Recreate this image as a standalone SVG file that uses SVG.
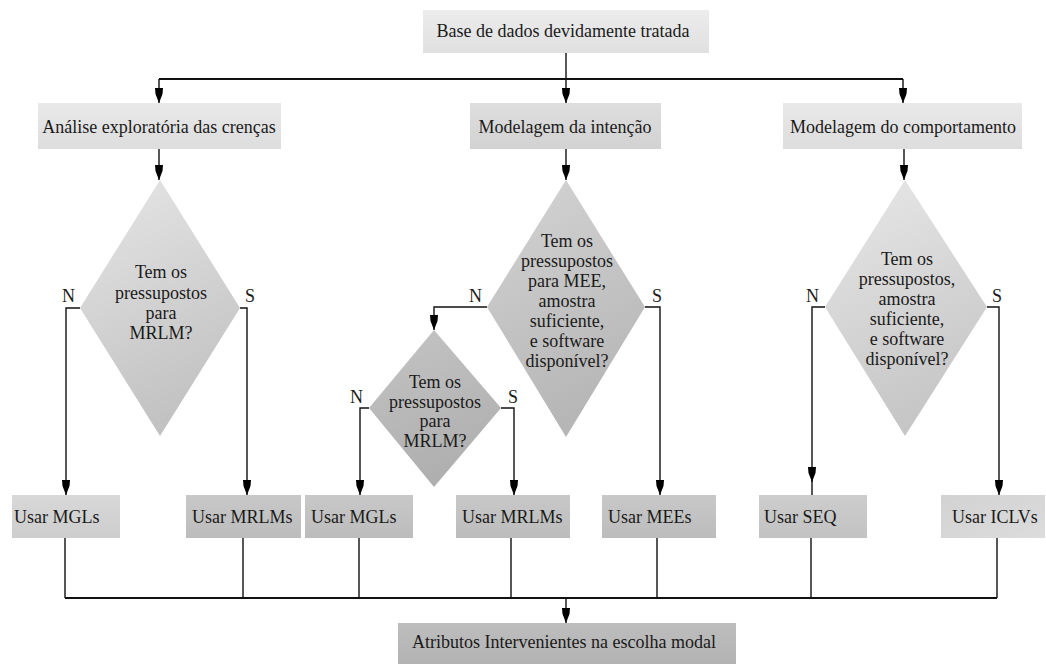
<svg xmlns="http://www.w3.org/2000/svg" width="1046" height="664" viewBox="0 0 1046 664">
<style>
text{font-family:"Liberation Serif","Times New Roman",serif;font-size:18px;fill:#1a1a1a}
.c{text-anchor:middle}
.ln{fill:none;stroke:#111;stroke-width:1.4}
.lw{fill:none;stroke:#111;stroke-width:1.8}
</style>
<defs>
<marker id="ahd" markerUnits="userSpaceOnUse" markerWidth="16" markerHeight="10" refX="15" refY="5" orient="auto" viewBox="0 0 16 10">
<path d="M0,1 L6,1.5 L15,5 L6,8.5 L0,9 Z" fill="#000"/>
</marker>
<linearGradient id="gTop" x1="0" y1="0" x2="0" y2="1"><stop offset="0" stop-color="#ececec"/><stop offset="1" stop-color="#e0e0e0"/></linearGradient>
<linearGradient id="gA" x1="0" y1="0" x2="0" y2="1"><stop offset="0" stop-color="#e9e9e9"/><stop offset="1" stop-color="#dddddd"/></linearGradient>
<linearGradient id="gB" x1="0" y1="0" x2="0" y2="1"><stop offset="0" stop-color="#dedede"/><stop offset="1" stop-color="#d2d2d2"/></linearGradient>
<linearGradient id="gL1" x1="0" y1="0" x2="0" y2="1"><stop offset="0" stop-color="#d8d8d8"/><stop offset="1" stop-color="#cdcdcd"/></linearGradient>
<linearGradient id="gM" x1="0" y1="0" x2="0" y2="1"><stop offset="0" stop-color="#c8c8c8"/><stop offset="1" stop-color="#bcbcbc"/></linearGradient>
<linearGradient id="gS" x1="0" y1="0" x2="0" y2="1"><stop offset="0" stop-color="#cdcdcd"/><stop offset="1" stop-color="#c2c2c2"/></linearGradient>
<linearGradient id="gI" x1="0" y1="0" x2="1" y2="1"><stop offset="0" stop-color="#d2d2d2"/><stop offset="1" stop-color="#dcdcdc"/></linearGradient>
<linearGradient id="gBot" x1="0" y1="0" x2="0" y2="1"><stop offset="0" stop-color="#bdbdbd"/><stop offset="1" stop-color="#b3b3b3"/></linearGradient>
<linearGradient id="gD1" x1="0" y1="0" x2="0.3" y2="1"><stop offset="0" stop-color="#e6e6e6"/><stop offset="1" stop-color="#c2c2c2"/></linearGradient>
<linearGradient id="gD2" x1="0" y1="0" x2="0.3" y2="1"><stop offset="0" stop-color="#d4d4d4"/><stop offset="1" stop-color="#b6b6b6"/></linearGradient>
<linearGradient id="gD3" x1="0" y1="0" x2="0.3" y2="1"><stop offset="0" stop-color="#c4c4c4"/><stop offset="1" stop-color="#afafaf"/></linearGradient>
<linearGradient id="gD4" x1="0" y1="0" x2="0.3" y2="1"><stop offset="0" stop-color="#e8e8e8"/><stop offset="1" stop-color="#c6c6c6"/></linearGradient>
</defs>
<rect width="1046" height="664" fill="#fff"/>

<g id="connectors">
<path class="ln" d="M566,53 V103" marker-end="url(#ahd)"/>
<path class="lw" d="M159,79 H903"/>
<path class="ln" d="M159,79 V103" marker-end="url(#ahd)"/>
<path class="ln" d="M903,79 V103" marker-end="url(#ahd)"/>
<path class="ln" d="M159,149 V180" marker-end="url(#ahd)"/>
<path class="ln" d="M566,149 V180" marker-end="url(#ahd)"/>
<path class="ln" d="M904,149 V180" marker-end="url(#ahd)"/>
<path class="ln" d="M80,308 H66 V495" marker-end="url(#ahd)"/>
<path class="ln" d="M240,308 H247 V495" marker-end="url(#ahd)"/>
<path class="ln" d="M487,307 H434 V330" marker-end="url(#ahd)"/>
<path class="ln" d="M645,307 H660 V495" marker-end="url(#ahd)"/>
<path class="ln" d="M369,408 H360 V495" marker-end="url(#ahd)"/>
<path class="ln" d="M501,408 H514 V495" marker-end="url(#ahd)"/>
<path class="ln" d="M825,307 H812 V482" marker-end="url(#ahd)"/>
<path class="ln" d="M812,480 V495"/>
<path class="ln" d="M987,307 H999 V495" marker-end="url(#ahd)"/>
<path class="ln" d="M65,538 V598 M243,538 V598 M359,538 V598 M511,538 V598 M657,538 V598 M811,538 V598 M997,538 V598"/>
<path class="lw" d="M65,598 H997"/>
<path class="ln" d="M566,598 V623" marker-end="url(#ahd)"/>
</g>

<g id="n-base"><rect x="423" y="10" width="286" height="43" fill="url(#gTop)"/><text class="c" x="563" y="37">Base de dados devidamente tratada</text></g>
<g id="n-analise"><rect x="38" y="103" width="243" height="46" fill="url(#gA)"/><text class="c" x="159" y="133">Análise exploratória das crenças</text></g>
<g id="n-intencao"><rect x="470" y="103" width="191" height="46" fill="url(#gB)"/><text class="c" x="565" y="133">Modelagem da intenção</text></g>
<g id="n-comport"><rect x="783" y="103" width="239" height="46" fill="url(#gA)"/><text class="c" x="903" y="133">Modelagem do comportamento</text></g>

<g id="d-1"><polygon points="160,180 240,308 160,436 80,308" fill="url(#gD1)"/>
<text class="c" x="161" y="278">Tem os</text><text class="c" x="161" y="298.5">pressupostos</text><text class="c" x="161" y="319">para</text><text class="c" x="161" y="339">MRLM?</text>
<text x="62" y="302">N</text><text x="245" y="302">S</text></g>

<g id="d-2"><polygon points="566,180 645,307 566,437 487,307" fill="url(#gD2)"/>
<text class="c" x="567" y="247">Tem os</text><text class="c" x="567" y="267">pressupostos</text><text class="c" x="567" y="287">para MEE,</text><text class="c" x="567" y="307">amostra</text><text class="c" x="567" y="327">suficiente,</text><text class="c" x="567" y="347">e software</text><text class="c" x="567" y="367">disponível?</text>
<text x="469" y="302">N</text><text x="652" y="302">S</text></g>

<g id="d-3"><polygon points="434,330 501,408 434,487 369,408" fill="url(#gD3)"/>
<text class="c" x="435" y="388">Tem os</text><text class="c" x="435" y="407.5">pressupostos</text><text class="c" x="435" y="427">para</text><text class="c" x="435" y="447">MRLM?</text>
<text x="350" y="403">N</text><text x="508" y="403">S</text></g>

<g id="d-4"><polygon points="905,180 987,307 905,436 825,307" fill="url(#gD4)"/>
<text class="c" x="907" y="265">Tem os</text><text class="c" x="907" y="285">pressupostos,</text><text class="c" x="907" y="305">amostra</text><text class="c" x="907" y="325">suficiente,</text><text class="c" x="907" y="345">e software</text><text class="c" x="907" y="365">disponível?</text>
<text x="806" y="302">N</text><text x="992" y="302">S</text></g>

<g id="n-mgl1"><rect x="12" y="495" width="108" height="43" fill="url(#gL1)"/><text x="14" y="523">Usar MGLs</text></g>
<g id="n-mrlm1"><rect x="186" y="495" width="115" height="43" fill="url(#gM)"/><text x="192" y="523">Usar MRLMs</text></g>
<g id="n-mgl2"><rect x="305" y="495" width="108" height="43" fill="url(#gM)"/><text x="311" y="523">Usar MGLs</text></g>
<g id="n-mrlm2"><rect x="456" y="495" width="114" height="43" fill="url(#gM)"/><text x="462" y="523">Usar MRLMs</text></g>
<g id="n-mee"><rect x="602" y="495" width="114" height="43" fill="url(#gM)"/><text x="608" y="523">Usar MEEs</text></g>
<g id="n-seq"><rect x="759" y="495" width="108" height="43" fill="url(#gS)"/><text x="764" y="523">Usar SEQ</text></g>
<g id="n-iclv"><rect x="941" y="495" width="104" height="43" fill="url(#gI)"/><text x="952" y="523">Usar ICLVs</text></g>

<g id="n-atributos"><rect x="398" y="623" width="338" height="41" fill="url(#gBot)"/><text class="c" x="564" y="648">Atributos Intervenientes na escolha modal</text></g>
</svg>
